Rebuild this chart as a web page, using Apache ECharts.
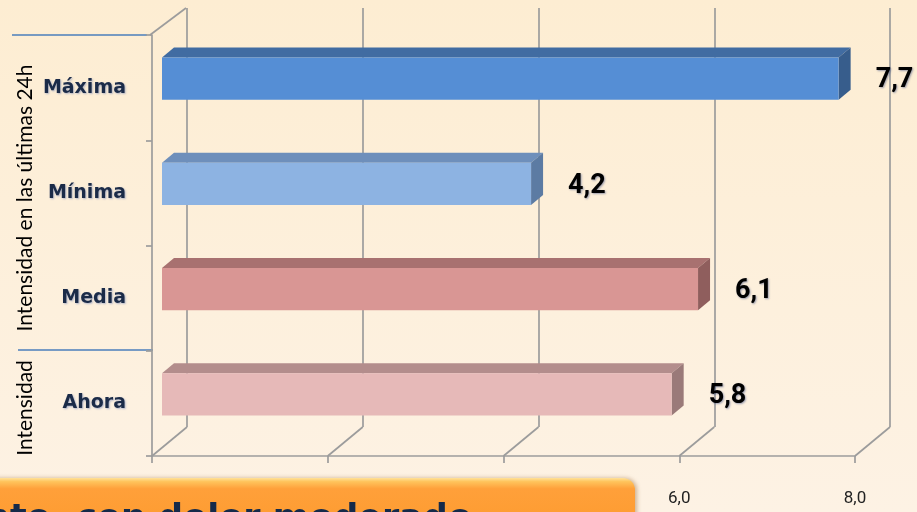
<!DOCTYPE html>
<html>
<head>
<meta charset="utf-8">
<style>
  html, body { margin: 0; padding: 0; background: #fdf0dc; }
  #chart { width: 917px; height: 512px; }
</style>
<script src="https://cdn.jsdelivr.net/npm/echarts@6/dist/echarts.min.js"></script>
</head>
<body>
<div id="chart"></div>
<script>
// datos
const categories = ['Máxima', 'Mínima', 'Media', 'Ahora']
const values = [7.7, 4.2, 6.1, 5.8]
const xTicks = [0, 2, 4, 6, 8]
const groupTitles = ['Intensidad en las últimas 24h', 'Intensidad']
const footerText = 'nto, con dolor moderado'

// estilo
const faceColors = [
  { front: '#558ed5', top: '#416ca2', side: '#375d8c' },
  { front: '#8db3e2', top: '#6e8fbb', side: '#5c7ba3' },
  { front: '#d99694', top: '#a87170', side: '#8f5e5d' },
  { front: '#e6b9b8', top: '#b38d8c', side: '#9a7a79' }
]
const gridColor = '#9c9c9c'
const depth = [35, -29]
const fmt = v => v.toFixed(1).replace('.', ',')

function renderFrame (params, api) {
  const cs = params.coordSys
  const x = api.coord([api.value(0), 0])[0]
  const y = cs.y + cs.height
  const children = [{
    type: 'line',
    shape: { x1: x, y1: y, x2: x + depth[0], y2: y + depth[1] },
    style: { stroke: gridColor, lineWidth: 1.7 }
  }]
  if (params.dataIndex === 0) {
    // arista superior de la pared izquierda
    children.push({
      type: 'line',
      shape: { x1: cs.x - 2, y1: cs.y, x2: cs.x - 2 + 36, y2: cs.y - 27 },
      style: { stroke: gridColor, lineWidth: 1.7 }
    })
  }
  return { type: 'group', children }
}

function renderBar (params, api) {
  const i = api.value(1)
  const s = api.coord([0, i])
  const e = api.coord([api.value(0), i])
  const band = api.size([0, 1])[1]
  const h = band * 0.4
  const x = s[0] + 10
  const y = s[1] - 9 - h / 2
  const w = e[0] - s[0]
  const dx = 12
  const dy = -10
  const c = faceColors[i]
  return {
    type: 'group',
    children: [
      { type: 'polygon', shape: { points: [[x, y], [x + dx, y + dy], [x + w + dx, y + dy], [x + w, y]] }, style: { fill: c.top } },
      { type: 'polygon', shape: { points: [[x + w, y], [x + w + dx, y + dy], [x + w + dx, y + h + dy], [x + w, y + h]] }, style: { fill: c.side } },
      { type: 'rect', shape: { x: x, y: y, width: w, height: h }, style: { fill: c.front } },
      {
        type: 'text',
        x: x + w + 37,
        y: y + h / 2 + 2,
        style: {
          text: fmt(api.value(0)),
          fontFamily: 'Roboto',
          fontWeight: 'bold',
          fontSize: 27,
          fill: '#000',
          align: 'left',
          verticalAlign: 'middle',
          textShadowColor: 'rgba(40,60,120,0.45)',
          textShadowBlur: 2,
          textShadowOffsetX: 1,
          textShadowOffsetY: 1
        }
      }
    ]
  }
}

const footerFill = {
  type: 'linear', x: 0, y: 0, x2: 0, y2: 1,
  colorStops: [
    { offset: 0, color: '#ffe29a' },
    { offset: 0.06, color: '#ffc45c' },
    { offset: 0.18, color: '#ffa03a' },
    { offset: 1, color: '#fd9a2c' }
  ]
}

const option = {
  animation: false,
  backgroundColor: {
    type: 'linear', x: 0, y: 0, x2: 0, y2: 1,
    colorStops: [{ offset: 0, color: '#fdedd2' }, { offset: 1, color: '#fdf2e4' }]
  },
  grid: [
    { left: 152, right: 62, top: 35, bottom: 56 },
    { left: 152 + depth[0], right: 62 - depth[0], top: 8, bottom: 56 - depth[1] }
  ],
  xAxis: [
    {
      type: 'value',
      gridIndex: 0,
      min: 0,
      max: 8,
      interval: 2,
      splitLine: { show: false },
      axisLine: { show: true, lineStyle: { color: gridColor, width: 1.7 } },
      axisTick: { show: true, length: 7, lineStyle: { color: gridColor, width: 1.7 } },
      axisLabel: {
        margin: 34,
        formatter: fmt,
        fontFamily: 'Roboto',
        fontSize: 17,
        color: '#222'
      }
    },
    {
      type: 'value',
      gridIndex: 1,
      min: 0,
      max: 8,
      interval: 2,
      axisLine: { show: false },
      axisTick: { show: false },
      axisLabel: { show: false },
      splitLine: { show: true, lineStyle: { color: gridColor, width: 1.7 } }
    }
  ],
  yAxis: [
    {
      type: 'category',
      gridIndex: 0,
      inverse: true,
      data: categories,
      axisLine: { show: true, lineStyle: { color: gridColor, width: 1.7 } },
      axisTick: { show: true, length: 6, lineStyle: { color: gridColor, width: 1.7 } },
      axisLabel: {
        margin: 26,
        fontFamily: 'DejaVu Sans',
        fontWeight: 'bold',
        fontSize: 19,
        color: '#1b2b48',
        textShadowColor: 'rgba(60,90,170,0.4)',
        textShadowBlur: 2,
        textShadowOffsetX: 1,
        textShadowOffsetY: 1
      }
    },
    {
      type: 'value',
      gridIndex: 1,
      show: false
    }
  ],
  series: [
    {
      type: 'custom',
      xAxisIndex: 0,
      yAxisIndex: 0,
      clip: false,
      silent: true,
      z: 1,
      renderItem: renderFrame,
      data: xTicks.map(v => [v, 0])
    },
    {
      type: 'custom',
      xAxisIndex: 0,
      yAxisIndex: 0,
      clip: false,
      z: 3,
      renderItem: renderBar,
      encode: { x: 0, y: 1 },
      data: values.map((v, i) => [v, i])
    }
  ],
  graphic: {
    elements: [
      { type: 'line', shape: { x1: 12, y1: 35, x2: 147, y2: 35 }, style: { stroke: '#4a7ebb', lineWidth: 1.5 } },
      { type: 'line', shape: { x1: 18, y1: 350, x2: 153, y2: 350 }, style: { stroke: '#4a7ebb', lineWidth: 1.5 } },
      {
        type: 'text',
        x: 25,
        y: 198,
        rotation: Math.PI / 2,
        style: { text: groupTitles[0], fontFamily: 'Lato', fontSize: 21, fill: '#000', align: 'center', verticalAlign: 'middle' }
      },
      {
        type: 'text',
        x: 25,
        y: 408,
        rotation: Math.PI / 2,
        style: { text: groupTitles[1], fontFamily: 'Lato', fontSize: 21, fill: '#000', align: 'center', verticalAlign: 'middle' }
      },
      {
        type: 'rect',
        z: 100,
        zlevel: 1,
        shape: { x: -10, y: 478, width: 645, height: 60, r: [0, 12, 0, 0] },
        style: {
          fill: footerFill,
          shadowBlur: 4,
          shadowColor: 'rgba(120,60,0,0.35)',
          shadowOffsetX: 2
        }
      },
      {
        type: 'text',
        z: 101,
        zlevel: 1,
        x: -15,
        y: 502,
        style: {
          text: footerText,
          fontFamily: 'DejaVu Sans',
          fontWeight: 'bold',
          fontSize: 35,
          fill: '#152a4a',
          align: 'left',
          verticalAlign: 'top'
        }
      }
    ]
  }
}

const chart = echarts.init(document.getElementById('chart'))
chart.setOption(option)
</script>
</body>
</html>
